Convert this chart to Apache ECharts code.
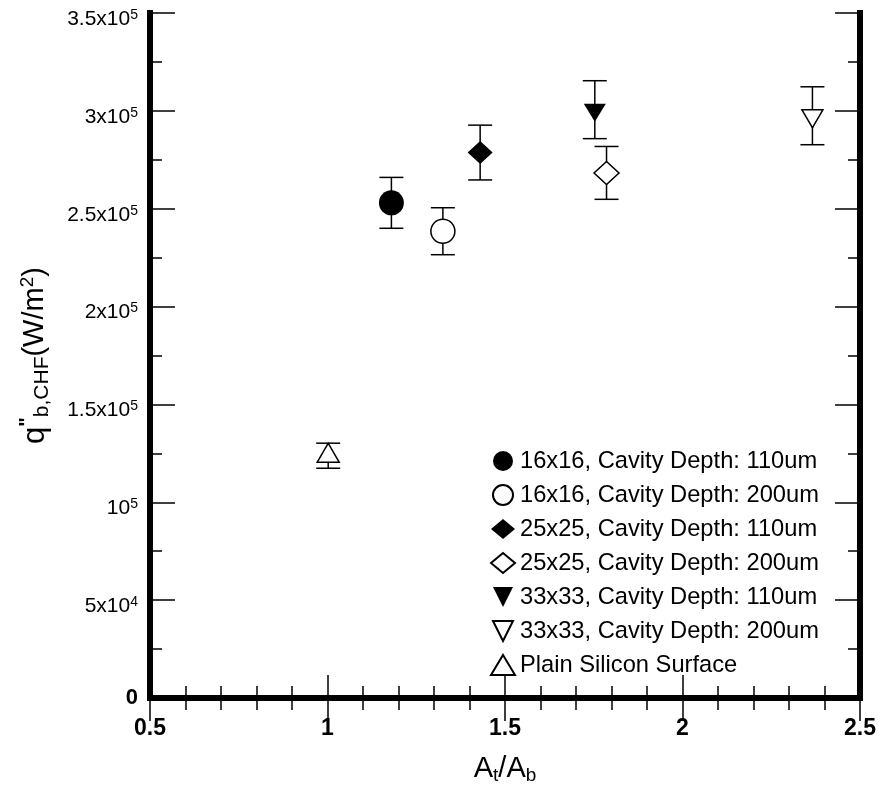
<!DOCTYPE html>
<html>
<head>
<meta charset="utf-8">
<title>CHF vs area ratio</title>
<script src="https://cdn.jsdelivr.net/npm/echarts@6/dist/echarts.min.js"></script>
<style>
  html, body { margin: 0; padding: 0; background: #fff; }
  #main { width: 878px; height: 787px; }
</style>
</head>
<body>
<div id="main"></div>
<script>
// 数据
var seriesNames = [
  "16x16, Cavity Depth: 110um",
  "16x16, Cavity Depth: 200um",
  "25x25, Cavity Depth: 110um",
  "25x25, Cavity Depth: 200um",
  "33x33, Cavity Depth: 110um",
  "33x33, Cavity Depth: 200um",
  "Plain Silicon Surface"
];
var xValues = [1.18, 1.325, 1.43, 1.786, 1.753, 2.366, 1.002];
var yValues = [253000, 238500, 278700, 268300, 300600, 297500, 123800];
var yErrors = [13000, 12000, 14000, 13500, 14800, 14800, 6400];
var xTickLabels = ["0.5", "1", "1.5", "2", "2.5"];
var yTickLabels = ["0", "5x10^4", "10^5", "1.5x10^5", "2x10^5", "2.5x10^5", "3x10^5", "3.5x10^5"];

var FONT = "'Liberation Sans', Arial, sans-serif";
var downTri = "path://M0,0 L10,0 L5,10 Z";

// 每个系列的标记样式
var markerStyles = [
  { symbol: "circle", size: 25, fill: "#000", offset: [0, 0] },
  { symbol: "circle", size: 24, fill: "#fff", offset: [0, 0] },
  { symbol: "diamond", size: [25, 23], fill: "#000", offset: [0, 0] },
  { symbol: "diamond", size: [25, 23], fill: "#fff", offset: [0, 0] },
  { symbol: downTri, size: [22, 18], fill: "#000", offset: [0, 3] },
  { symbol: downTri, size: [21, 18], fill: "#fff", offset: [0, 3] },
  { symbol: "triangle", size: [22, 19], fill: "#fff", offset: [0, -3] }
];

function yLabelText(s) {
  if (s === "0") return "{bold|0}";
  var parts = s.split("^");
  return "{base|" + parts[0] + "}{sup|" + parts[1] + "}";
}

var chart = echarts.init(document.getElementById("main"));

// 误差棒
var errData = xValues.map(function(x, i) {
  return [x, yValues[i] - yErrors[i], yValues[i] + yErrors[i]];
});

function renderErr(params, api) {
  var x = api.value(0);
  var lo = api.coord([x, api.value(1)]);
  var hi = api.coord([x, api.value(2)]);
  var w = 12;
  var st = { stroke: "#000", lineWidth: 1.5 };
  return {
    type: "group",
    children: [
      { type: "line", shape: { x1: lo[0], y1: lo[1], x2: hi[0], y2: hi[1] }, style: st },
      { type: "line", shape: { x1: lo[0] - w, y1: lo[1], x2: lo[0] + w, y2: lo[1] }, style: st },
      { type: "line", shape: { x1: hi[0] - w, y1: hi[1], x2: hi[0] + w, y2: hi[1] }, style: st }
    ]
  };
}

var series = [
  {
    type: "custom",
    name: "err",
    renderItem: renderErr,
    data: errData,
    encode: { x: 0, y: [1, 2] },
    z: 1,
    silent: true
  }
];

seriesNames.forEach(function(name, i) {
  var m = markerStyles[i];
  series.push({
    type: "scatter",
    name: name,
    data: [[xValues[i], yValues[i]]],
    symbol: m.symbol,
    symbolSize: m.size,
    symbolOffset: m.offset,
    itemStyle: {
      color: m.fill,
      borderColor: "#000",
      borderWidth: m.fill === "#fff" ? 1.5 : 0,
      opacity: 1
    },
    z: 5
  });
});

var tickStyle = { color: "#000", width: 1.5 };
var axisLineStyle = { color: "#000", width: 6, cap: "square" };

var option = {
  animation: false,
  backgroundColor: "#fff",
  grid: { left: 150, right: 18, top: 13, bottom: 89, containLabel: false, outerBoundsMode: "none" },
  legend: {
    orient: "vertical",
    left: 490,
    top: 449,
    padding: 0,
    itemWidth: 24,
    itemHeight: 20,
    itemGap: 10,
    data: seriesNames,
    textStyle: { fontFamily: FONT, fontSize: 23.7, lineHeight: 24, color: "#000" }
  },
  xAxis: [
    {
      type: "value",
      min: 0.5,
      max: 2.5,
      interval: 0.5,
      position: "bottom",
      name: "{base|A}{sub|t}{base|/A}{sub|b}",
      nameLocation: "middle",
      nameGap: 54,
      nameTextStyle: {
        rich: {
          base: { fontFamily: FONT, fontSize: 29, color: "#000" },
          sub: { fontFamily: FONT, fontSize: 19, color: "#000", padding: [14, 0, 0, 0] }
        }
      },
      axisLine: { lineStyle: axisLineStyle },
      axisTick: { inside: true, length: 23, lineStyle: tickStyle },
      minorTick: { show: true, splitNumber: 5, length: 12, lineStyle: tickStyle },
      splitLine: { show: false },
      axisLabel: {
        margin: 19,
        fontFamily: FONT,
        fontSize: 23,
        fontWeight: "bold",
        color: "#000",
        formatter: function(v) {
          return xTickLabels[Math.round((v - 0.5) / 0.5)];
        }
      }
    },
    {
      type: "value",
      min: 0.5,
      max: 2.5,
      interval: 0.5,
      position: "top",
      axisLine: { lineStyle: axisLineStyle },
      axisTick: { inside: true, length: 23, lineStyle: tickStyle },
      minorTick: { show: true, splitNumber: 5, length: 12, lineStyle: tickStyle },
      splitLine: { show: false },
      axisLabel: { show: false }
    }
  ],
  yAxis: [
    {
      type: "value",
      min: 0,
      max: 350000,
      interval: 50000,
      position: "left",
      name: "{q|q}{pp|\"}{sub|b,CHF}{base|(W/m}{sup|2}{base|)}",
      nameLocation: "middle",
      nameRotate: 90,
      nameGap: 97,
      nameTextStyle: {
        rich: {
          q: { fontFamily: FONT, fontSize: 31, color: "#000" },
          pp: { fontFamily: FONT, fontSize: 20, fontWeight: "bold", color: "#000", padding: [0, 0, 16, 0] },
          sub: { fontFamily: FONT, fontSize: 21, color: "#000", padding: [14, 0, 0, 0] },
          base: { fontFamily: FONT, fontSize: 29, color: "#000" },
          sup: { fontFamily: FONT, fontSize: 19, color: "#000", padding: [0, 0, 14, 0] }
        }
      },
      axisLine: { lineStyle: axisLineStyle },
      axisTick: { inside: true, length: 25, lineStyle: tickStyle },
      minorTick: { show: true, splitNumber: 2, length: 12, lineStyle: tickStyle },
      splitLine: { show: false },
      axisLabel: {
        margin: 12,
        color: "#000",
        formatter: function(v) {
          return yLabelText(yTickLabels[Math.round(v / 50000)]);
        },
        rich: {
          base: { fontFamily: FONT, fontSize: 21, color: "#000", padding: [12, 0, 0, 0] },
          sup: { fontFamily: FONT, fontSize: 14, color: "#000", padding: [4, 0, 0, 0] },
          bold: { fontFamily: FONT, fontSize: 22, fontWeight: "bold", color: "#000" }
        }
      }
    },
    {
      type: "value",
      min: 0,
      max: 350000,
      interval: 50000,
      position: "right",
      axisLine: { lineStyle: axisLineStyle },
      axisTick: { inside: true, length: 25, lineStyle: tickStyle },
      minorTick: { show: true, splitNumber: 2, length: 12, lineStyle: tickStyle },
      splitLine: { show: false },
      axisLabel: { show: false }
    }
  ],
  series: series
};

chart.setOption(option);
</script>
</body>
</html>
